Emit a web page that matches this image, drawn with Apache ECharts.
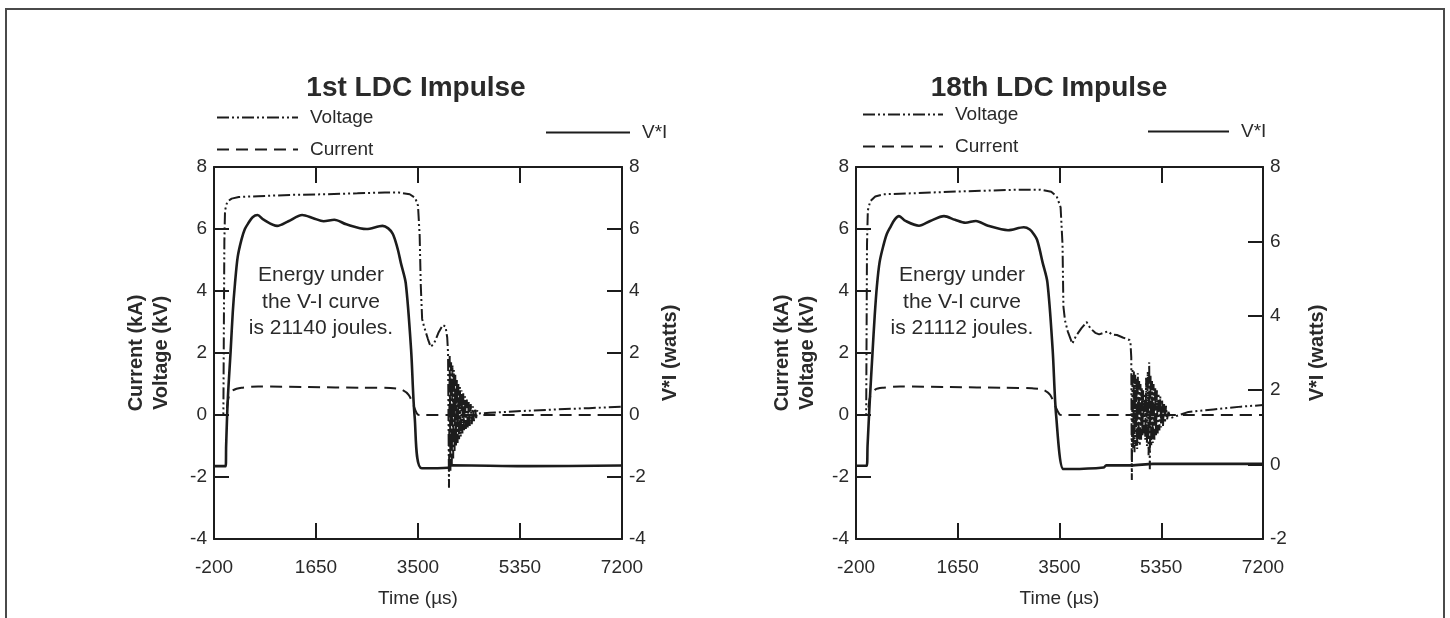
<!DOCTYPE html>
<html>
<head>
<meta charset="utf-8">
<title>LDC Impulse</title>
<script src="https://cdn.jsdelivr.net/npm/echarts@6/dist/echarts.min.js"></script>
<style>
  html, body { margin: 0; padding: 0; background: #fff; }
  #chart { width: 1450px; height: 618px; }
</style>
</head>
<body>
<div id="chart"></div>
<script>
// time axis, µs
const timeLabels = [-200, 1650, 3500, 5350, 7200];
const timeTicks = [1650, 3500, 5350];

// 1st impulse: [time, value]
const ldc1Voltage = [
  [-200, 0], [-30, 0], [-22, 2.5], [-12, 5.6], [0, 6.6], [40, 6.88], [120, 6.98], [250, 7.03],
  [600, 7.06], [1200, 7.1], [1800, 7.12], [2400, 7.15], [2900, 7.18], [3150, 7.18], [3350, 7.12],
  [3450, 7.0], [3500, 6.75], [3530, 5.8], [3550, 4.2], [3575, 3.1], [3610, 2.85], [3680, 2.45],
  [3730, 2.2], [3790, 2.3], [3870, 2.65], [3950, 2.9], [4000, 2.85], [4030, 2.5], [4045, 2.0],
  [4050, 1.95], [4062, -2.35], [4075, 1.9], [4088, -1.8], [4100, 1.7], [4113, -1.6], [4125, 1.6],
  [4138, -1.4], [4150, 1.45], [4163, -1.2], [4176, 1.3], [4190, -1.0], [4204, 1.15], [4218, -0.9],
  [4232, 1.0], [4246, -0.8], [4260, 0.9], [4275, -0.7], [4290, 0.8], [4305, -0.6], [4320, 0.7],
  [4336, -0.5], [4352, 0.6], [4368, -0.45], [4385, 0.5], [4402, -0.4], [4420, 0.42], [4438, -0.35],
  [4456, 0.35], [4475, -0.3], [4495, 0.28], [4515, -0.2], [4535, 0.22], [4555, -0.1], [4575, 0.15],
  [4600, 0.05], [4800, 0.07], [5300, 0.12], [6000, 0.18], [6600, 0.22], [7200, 0.27]
];
const ldc1Current = [
  [-200, 0], [20, 0], [40, 0.3], [70, 0.6], [150, 0.8], [300, 0.88], [600, 0.92], [1500, 0.9],
  [2500, 0.88], [3000, 0.87], [3200, 0.82], [3330, 0.65], [3420, 0.3], [3480, 0.05], [3520, 0],
  [7200, 0]
];
const ldc1Power = [
  [-200, -1.65], [12, -1.65], [20, -1.0], [50, 0.5], [103, 2.1], [140, 3.3], [181, 4.25],
  [230, 5.1], [297, 5.65], [360, 6.0], [427, 6.2], [500, 6.38], [589, 6.45], [700, 6.3],
  [945, 6.1], [1150, 6.25], [1399, 6.45], [1600, 6.35], [1788, 6.25], [1982, 6.3], [2200, 6.15],
  [2565, 6.0], [2857, 6.1], [2960, 6.02], [3040, 5.85], [3084, 5.65], [3140, 5.3], [3190, 4.9],
  [3278, 4.25], [3375, 2.1], [3439, -0.05], [3569, -1.72], [4043, -1.7], [4100, -1.62],
  [5500, -1.65], [7200, -1.63]
];

// 18th impulse: [time, value]
const ldc18Voltage = [
  [-200, 0], [-15, 0], [-8, 2.5], [0, 5.5], [15, 6.6], [60, 6.9], [150, 7.05], [300, 7.12],
  [800, 7.15], [1500, 7.2], [2200, 7.24], [2800, 7.27], [3150, 7.27], [3350, 7.2], [3450, 7.05],
  [3520, 6.7], [3555, 5.5], [3571, 3.5], [3600, 3.05], [3650, 2.7], [3733, 2.3], [3800, 2.55],
  [3900, 2.8], [3993, 3.0], [4060, 2.8], [4150, 2.65], [4221, 2.6], [4300, 2.65], [4383, 2.7],
  [4450, 2.6], [4545, 2.58], [4650, 2.5], [4772, 2.42], [4790, 2.35],
  [4805, 1.85], [4815, -2.1], [4828, 1.5], [4840, -1.1], [4852, 1.4], [4864, -1.2], [4876, 1.3],
  [4888, -1.0], [4900, 1.2], [4912, -1.1], [4924, 1.35], [4936, -0.9], [4948, 1.1], [4960, -1.0],
  [4972, 1.0], [4984, -0.8], [4996, 0.9], [5008, -0.7], [5020, 0.8], [5032, -0.6], [5045, 0.7],
  [5060, -0.8], [5075, 1.2], [5090, -1.0], [5105, 1.4], [5120, -1.3], [5131, 1.7], [5142, -1.75],
  [5155, 1.3], [5168, -1.0], [5182, 1.1], [5196, -0.9], [5210, 1.0], [5225, -0.8], [5240, 0.9],
  [5255, -0.7], [5270, 0.8], [5285, -0.6], [5300, 0.7], [5316, -0.5], [5332, 0.6], [5348, -0.4],
  [5365, 0.5], [5382, -0.35], [5400, 0.4], [5418, -0.25], [5436, 0.3], [5455, -0.15], [5480, 0.1],
  [5520, -0.1], [5600, -0.05], [5846, 0.1], [6300, 0.18], [6800, 0.27], [7200, 0.32]
];
const ldc18Current = [
  [-200, 0], [10, 0], [30, 0.3], [60, 0.6], [150, 0.82], [300, 0.88], [600, 0.92], [1500, 0.9],
  [2500, 0.88], [3000, 0.86], [3200, 0.82], [3330, 0.65], [3420, 0.3], [3500, 0.02], [3540, 0],
  [7200, 0]
];
const ldc18Power = [
  [-200, -0.03], [-5, -0.03], [10, 0.5], [50, 1.7], [100, 3.0], [140, 4.0], [180, 4.8],
  [230, 5.45], [300, 5.9], [360, 6.2], [430, 6.4], [500, 6.58], [581, 6.68], [700, 6.55],
  [945, 6.42], [1150, 6.55], [1400, 6.68], [1600, 6.58], [1790, 6.5], [1980, 6.55], [2200, 6.42],
  [2565, 6.3], [2850, 6.38], [2960, 6.32], [3040, 6.18], [3090, 6.05], [3140, 5.78], [3190, 5.45],
  [3280, 4.9], [3375, 3.1], [3440, 1.3], [3570, -0.12], [3700, -0.12], [4300, -0.08],
  [4350, -0.02], [4800, -0.02], [5200, 0.02], [7200, 0.02]
];

const ink = "#1c1c1c";
const textColor = "#2a2a2a";
const font = "'Liberation Sans', Arial, sans-serif";
const voltageDash = [12, 3, 2, 3, 2, 3];
const currentDash = [12, 7];

function timeAxis(grid, top) {
  return {
    gridIndex: grid,
    type: "value",
    position: top ? "top" : "bottom",
    min: -200,
    max: 7200,
    name: top ? "" : "Time (µs)",
    nameLocation: "middle",
    nameGap: 50,
    nameTextStyle: { fontSize: 19, color: textColor, fontFamily: font },
    axisLine: { onZero: false, lineStyle: { color: ink, width: 2 } },
    axisTick: { inside: true, length: 16, customValues: timeTicks, lineStyle: { color: ink, width: 2 } },
    axisLabel: {
      show: !top,
      customValues: timeLabels,
      margin: 19,
      fontSize: 19,
      color: textColor,
      fontFamily: font,
      formatter: function (v) { return String(v); },
    },
    splitLine: { show: false },
  };
}

function valueAxis(grid, right, min, name, gap) {
  return {
    gridIndex: grid,
    type: "value",
    position: right ? "right" : "left",
    min: min,
    max: 8,
    interval: 2,
    name: name,
    nameLocation: "middle",
    nameGap: gap,
    nameTextStyle: { fontSize: 20, fontWeight: "bold", color: textColor, fontFamily: font, lineHeight: 25 },
    axisLine: { show: true, onZero: false, lineStyle: { color: ink, width: 2 } },
    axisTick: { show: true, inside: true, length: 15, lineStyle: { color: ink, width: 2 } },
    axisLabel: { margin: 7, fontSize: 19, color: textColor, fontFamily: font },
    splitLine: { show: false },
  };
}

function line(name, data, xi, yi, width, dash, smooth) {
  return {
    name: name,
    type: "line",
    xAxisIndex: xi,
    yAxisIndex: yi,
    data: data,
    symbol: "none",
    showSymbol: false,
    smooth: smooth,
    animation: false,
    lineStyle: { color: ink, width: width, type: dash },
  };
}

function legend(name, x, y, w) {
  return {
    data: [name],
    left: x,
    top: y,
    padding: 0,
    itemWidth: w,
    itemHeight: 14,
    selectedMode: false,
    itemStyle: { opacity: 0 },
    textStyle: { fontSize: 19, color: textColor, fontFamily: font, padding: [0, 0, 0, 7] },
  };
}

function label(text, x, y, size, bold) {
  return {
    type: "text",
    x: x,
    y: y,
    style: {
      text: text,
      fill: textColor,
      font: (bold ? "bold " : "") + size + "px " + font,
      textAlign: "center",
      textVerticalAlign: "middle",
    },
  };
}

var chart = echarts.init(document.getElementById("chart"));
var option = {
  backgroundColor: "#fff",
  animation: false,
  grid: [
    { left: 214, top: 167, width: 408, height: 372 },
    { left: 856, top: 167, width: 407, height: 372 },
  ],
  xAxis: [timeAxis(0, false), timeAxis(0, true), timeAxis(1, false), timeAxis(1, true)],
  yAxis: [
    valueAxis(0, false, -4, "Current (kA)\nVoltage (kV)", 40),
    valueAxis(0, true, -4, "V*I (watts)", 36),
    valueAxis(1, false, -4, "Current (kA)\nVoltage (kV)", 36),
    valueAxis(1, true, -2, "V*I (watts)", 42),
  ],
  legend: [
    legend("Voltage", 216, 108, 81),
    legend("Current", 216, 140, 81),
    legend("V*I", 545, 123, 84),
    legend("Voltage", 862, 105, 80),
    legend("Current", 862, 137, 80),
    legend("V*I", 1147, 122, 81),
  ],
  series: [
    line("Voltage", ldc1Voltage, 0, 0, 2, voltageDash, false),
    line("Current", ldc1Current, 0, 0, 2, currentDash, 0.3),
    line("V*I", ldc1Power, 0, 1, 2.6, "solid", 0.3),
    line("Voltage", ldc18Voltage, 2, 2, 2, voltageDash, false),
    line("Current", ldc18Current, 2, 2, 2, currentDash, 0.3),
    line("V*I", ldc18Power, 2, 3, 2.6, "solid", 0.3),
  ],
  graphic: [
    {
      type: "rect",
      shape: { x: 6, y: 9, width: 1438, height: 640 },
      style: { fill: "none", stroke: "#4a4a4a", lineWidth: 2 },
      silent: true,
    },
    label("1st LDC Impulse", 416, 88, 28, true),
    label("18th LDC Impulse", 1049, 88, 28, true),
    label("Energy under", 321, 275, 21, false),
    label("the V-I curve", 321, 302, 21, false),
    label("is 21140 joules.", 321, 328, 21, false),
    label("Energy under", 962, 275, 21, false),
    label("the V-I curve", 962, 302, 21, false),
    label("is 21112 joules.", 962, 328, 21, false),
  ],
};
chart.setOption(option);
</script>
</body>
</html>
